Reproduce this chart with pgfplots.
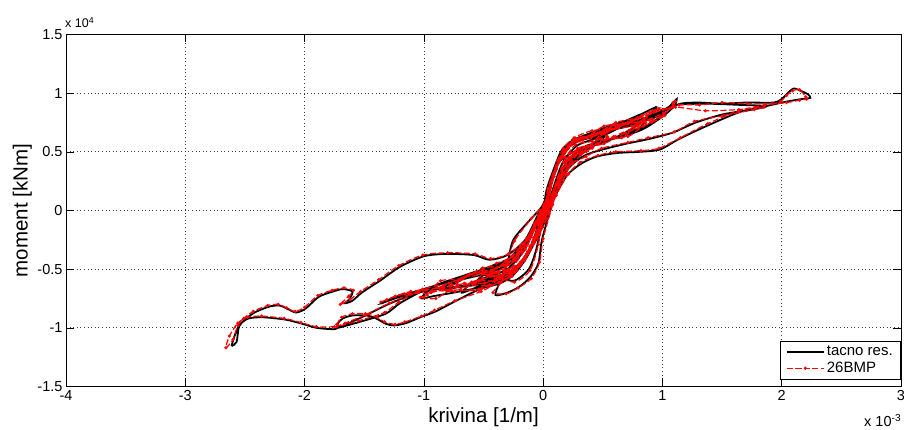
\documentclass[border=0pt]{standalone}
\usepackage{fontspec}
\setmainfont{Liberation Sans}
\usepackage{pgfplots}
\pgfplotsset{compat=1.18}
\usepackage{pgfplotstable}

% x in 1e-3 [1/m], y in 1e4 [kNm]; x,y = tacno res., xr,yr = 26BMP
\pgfplotstableread{
x y xr yr
0 0 0.01 0.01
0.04 0.15 0.05 0.16
0.09 0.32 0.10 0.33
0.14 0.44 0.15 0.45
0.2 0.52 0.21 0.53
0.16 0.47 0.17 0.46
0.1 0.36 0.11 0.37
0.04 0.16 0.05 0.17
-0.02 -0.06 -0.01 -0.05
-0.07 -0.22 -0.08 -0.23
-0.13 -0.36 -0.14 -0.37
-0.2 -0.46 -0.21 -0.47
-0.16 -0.42 -0.15 -0.41
-0.09 -0.28 -0.08 -0.27
-0.03 -0.08 -0.02 -0.07
0.03 0.08 0.04 0.09
0.08 0.28 0.09 0.29
0.14 0.45 0.15 0.46
0.22 0.55 0.23 0.56
0.32 0.6 0.33 0.62
0.45 0.63 0.46 0.66
0.52 0.64 0.54 0.63
0.46 0.58 0.45 0.6
0.34 0.52 0.33 0.5
0.22 0.44 0.21 0.45
0.12 0.28 0.13 0.29
0.04 0.06 0.05 0.07
-0.04 -0.14 -0.03 -0.13
-0.1 -0.3 -0.11 -0.31
-0.18 -0.43 -0.19 -0.44
-0.28 -0.52 -0.29 -0.5
-0.42 -0.57 -0.43 -0.55
-0.55 -0.6 -0.57 -0.62
-0.5 -0.55 -0.49 -0.53
-0.38 -0.5 -0.37 -0.52
-0.25 -0.44 -0.24 -0.43
-0.14 -0.3 -0.13 -0.29
-0.05 -0.1 -0.04 -0.09
0.02 0.05 0.03 0.06
0.08 0.3 0.09 0.31
0.16 0.48 0.17 0.49
0.25 0.58 0.26 0.6
0.38 0.64 0.4 0.62
0.55 0.68 0.56 0.7
0.72 0.72 0.7 0.74
0.85 0.76 0.86 0.75
0.8 0.7 0.79 0.72
0.65 0.64 0.66 0.62
0.5 0.58 0.49 0.6
0.35 0.52 0.36 0.5
0.22 0.42 0.21 0.43
0.12 0.25 0.13 0.26
0.03 0.0 0.04 0.01
-0.06 -0.22 -0.05 -0.21
-0.14 -0.38 -0.15 -0.39
-0.25 -0.5 -0.26 -0.52
-0.4 -0.58 -0.41 -0.56
-0.58 -0.63 -0.6 -0.61
-0.75 -0.66 -0.74 -0.69
-0.85 -0.68 -0.87 -0.66
-0.78 -0.62 -0.77 -0.64
-0.62 -0.56 -0.63 -0.55
-0.45 -0.5 -0.44 -0.52
-0.3 -0.44 -0.31 -0.43
-0.17 -0.32 -0.16 -0.31
-0.06 -0.1 -0.05 -0.09
0.02 0.04 0.03 0.05
0.09 0.32 0.1 0.33
0.17 0.5 0.18 0.51
0.26 0.6 0.27 0.61
0.4 0.66 0.41 0.64
0.6 0.71 0.6 0.73
0.8 0.77 0.82 0.76
0.95 0.83 0.94 0.85
1.05 0.88 1.06 0.87
1.1 0.93 1.09 0.92
1.12 0.95 1.11 0.93
1.1 0.89 1.09 0.9
1.0 0.8 1.01 0.82
0.85 0.7 0.84 0.72
0.7 0.64 0.71 0.63
0.55 0.6 0.54 0.62
0.4 0.54 0.41 0.53
0.28 0.46 0.27 0.47
0.16 0.3 0.17 0.31
0.06 0.05 0.07 0.06
-0.04 -0.18 -0.03 -0.17
-0.12 -0.36 -0.13 -0.37
-0.22 -0.5 -0.23 -0.51
-0.35 -0.6 -0.36 -0.58
-0.55 -0.66 -0.54 -0.68
-0.75 -0.7 -0.77 -0.68
-0.92 -0.73 -0.9 -0.75
-1.02 -0.75 -1.03 -0.74
-0.98 -0.7 -0.97 -0.72
-0.85 -0.62 -0.86 -0.6
-0.68 -0.56 -0.67 -0.58
-0.5 -0.5 -0.51 -0.49
-0.34 -0.46 -0.33 -0.47
-0.2 -0.36 -0.19 -0.35
-0.08 -0.12 -0.07 -0.11
0.01 0.03 0.02 0.04
0.08 0.3 0.09 0.31
0.17 0.49 0.18 0.5
0.25 0.58 0.26 0.59
0.39 0.64 0.4 0.63
0.6 0.69 0.61 0.7
0.8 0.76 0.79 0.78
1.0 0.85 1.01 0.86
1.15 0.91 1.14 0.9
1.3 0.92 1.31 0.9
1.51 0.91 1.5 0.92
1.7 0.92 1.71 0.91
1.93 0.92 1.92 0.91
2.0 0.95 1.99 0.93
2.05 1.0 2.04 0.98
2.1 1.04 2.09 1.02
2.16 1.02 2.15 1.03
2.22 0.99 2.2 0.97
2.24 0.96 2.21 0.95
2.17 0.95 2.15 0.94
2.05 0.93 2.04 0.92
1.87 0.89 1.86 0.9
1.65 0.84 1.64 0.85
1.37 0.72 1.38 0.74
1.14 0.61 1.15 0.62
0.98 0.52 0.97 0.53
0.81 0.5 0.82 0.51
0.62 0.49 0.61 0.5
0.45 0.46 0.46 0.47
0.32 0.4 0.31 0.41
0.2 0.3 0.21 0.31
0.1 0.12 0.11 0.13
0.02 -0.08 0.03 -0.07
-0.06 -0.25 -0.05 -0.24
-0.15 -0.42 -0.16 -0.43
-0.25 -0.55 -0.26 -0.56
-0.36 -0.62 -0.37 -0.61
-0.53 -0.67 -0.52 -0.69
-0.75 -0.78 -0.74 -0.77
-0.9 -0.86 -0.91 -0.85
-1.03 -0.91 -1.02 -0.9
-1.15 -0.96 -1.16 -0.95
-1.25 -0.98 -1.24 -0.97
-1.32 -0.965 -1.33 -0.95
-1.4 -0.92 -1.39 -0.91
-1.48 -0.895 -1.49 -0.88
-1.6 -0.895 -1.6 -0.88
-1.68 -0.92 -1.69 -0.91
-1.72 -0.96 -1.73 -0.97
-1.74 -1.01 -1.75 -0.99
-1.9 -1.0 -1.9 -0.99
-2.02 -0.965 -2.03 -0.955
-2.16 -0.93 -2.17 -0.92
-2.35 -0.91 -2.36 -0.9
-2.47 -0.92 -2.48 -0.91
-2.54 -0.97 -2.56 -0.96
-2.58 -1.05 -2.63 -1.07
-2.61 -1.15 -2.66 -1.17
-2.57 -1.12 -2.6 -1.1
-2.55 -0.99 -2.56 -0.98
-2.5 -0.93 -2.51 -0.92
-2.42 -0.87 -2.43 -0.86
-2.3 -0.82 -2.31 -0.81
-2.21 -0.81 -2.22 -0.8
-2.14 -0.84 -2.15 -0.83
-2.07 -0.87 -2.08 -0.86
-1.99 -0.835 -2.0 -0.825
-1.88 -0.735 -1.89 -0.725
-1.76 -0.69 -1.77 -0.68
-1.68 -0.67 -1.67 -0.66
-1.6 -0.69 -1.59 -0.68
-1.62 -0.75 -1.63 -0.73
-1.66 -0.79 -1.7 -0.8
-1.6 -0.77 -1.62 -0.76
-1.52 -0.7 -1.53 -0.69
-1.37 -0.6 -1.38 -0.59
-1.2 -0.48 -1.21 -0.47
-1.0 -0.39 -1.01 -0.38
-0.81 -0.37 -0.8 -0.36
-0.58 -0.38 -0.57 -0.37
-0.45 -0.42 -0.44 -0.41
-0.3 -0.38 -0.29 -0.37
-0.15 -0.25 -0.14 -0.24
-0.05 -0.05 -0.04 -0.04
0.03 0.1 0.04 0.11
0.1 0.35 0.11 0.36
0.2 0.52 0.21 0.53
0.3 0.6 0.31 0.61
0.5 0.66 0.51 0.68
0.75 0.74 0.74 0.72
1.0 0.84 1.01 0.83
1.12 0.9 1.11 0.88
1.37 0.91 1.36 0.85
1.65 0.9 1.64 0.86
1.87 0.89 1.85 0.88
1.78 0.865 1.77 0.86
1.51 0.82 1.52 0.81
1.28 0.75 1.27 0.76
1.09 0.665 1.1 0.67
0.89 0.61 0.88 0.62
0.7 0.57 0.71 0.58
0.5 0.52 0.49 0.53
0.35 0.47 0.36 0.46
0.22 0.37 0.21 0.38
0.12 0.2 0.13 0.21
0.03 -0.02 0.04 -0.01
-0.06 -0.22 -0.05 -0.21
-0.15 -0.4 -0.16 -0.41
-0.25 -0.52 -0.26 -0.53
-0.4 -0.58 -0.41 -0.6
-0.55 -0.62 -0.54 -0.6
-0.8 -0.66 -0.81 -0.68
-1.05 -0.7 -1.04 -0.69
-1.3 -0.8 -1.29 -0.79
-1.5 -0.9 -1.49 -0.89
-1.65 -0.97 -1.66 -0.96
-1.72 -1.0 -1.73 -0.99
-1.54 -0.95 -1.55 -0.94
-1.32 -0.88 -1.33 -0.87
-1.2 -0.79 -1.21 -0.78
-1.0 -0.68 -1.01 -0.67
-0.8 -0.6 -0.79 -0.62
-0.6 -0.55 -0.61 -0.54
-0.4 -0.48 -0.39 -0.49
-0.22 -0.38 -0.21 -0.37
-0.08 -0.12 -0.07 -0.11
0.02 0.06 0.03 0.07
0.1 0.34 0.11 0.35
0.18 0.5 0.19 0.51
0.3 0.6 0.31 0.62
0.5 0.67 0.49 0.65
0.7 0.72 0.71 0.74
0.9 0.78 0.89 0.77
1.0 0.82 1.02 0.81
0.9 0.74 0.91 0.75
0.7 0.65 0.69 0.66
0.5 0.58 0.51 0.57
0.3 0.5 0.29 0.51
0.15 0.32 0.16 0.33
0.05 0.06 0.06 0.07
-0.05 -0.2 -0.04 -0.19
-0.14 -0.4 -0.15 -0.41
-0.26 -0.54 -0.27 -0.55
-0.45 -0.62 -0.44 -0.64
-0.7 -0.65 -0.72 -0.63
-0.95 -0.68 -0.94 -0.7
-1.15 -0.72 -1.16 -0.71
-1.3 -0.77 -1.31 -0.76
-1.35 -0.79 -1.36 -0.78
-1.25 -0.74 -1.24 -0.73
-1.1 -0.7 -1.11 -0.69
-0.9 -0.64 -0.89 -0.66
-0.65 -0.58 -0.66 -0.57
-0.42 -0.52 -0.41 -0.53
-0.24 -0.42 -0.23 -0.41
-0.1 -0.18 -0.09 -0.17
0 0 0.01 0.01
0.08 0.28 0.09 0.29
0.16 0.47 0.17 0.48
0.28 0.6 0.29 0.61
0.45 0.68 0.46 0.66
0.62 0.73 0.61 0.75
0.78 0.8 0.79 0.79
0.9 0.86 0.89 0.84
0.95 0.88 0.97 0.87
0.88 0.8 0.87 0.81
0.75 0.7 0.76 0.71
0.6 0.62 0.59 0.63
0.45 0.58 0.46 0.57
0.3 0.52 0.29 0.53
0.18 0.38 0.19 0.39
0.08 0.15 0.09 0.16
-0.02 -0.08 -0.01 -0.07
-0.1 -0.3 -0.11 -0.31
-0.2 -0.46 -0.21 -0.47
-0.32 -0.55 -0.33 -0.54
-0.5 -0.6 -0.49 -0.62
-0.65 -0.64 -0.66 -0.62
-0.8 -0.66 -0.81 -0.68
-0.7 -0.6 -0.69 -0.59
-0.55 -0.52 -0.56 -0.53
-0.4 -0.46 -0.39 -0.45
-0.25 -0.4 -0.26 -0.39
-0.12 -0.22 -0.11 -0.21
-0.03 -0.02 -0.02 -0.01
0.05 0.18 0.06 0.19
0.12 0.4 0.13 0.41
0.2 0.54 0.21 0.55
0.32 0.62 0.33 0.6
0.5 0.7 0.51 0.72
0.68 0.76 0.67 0.74
0.82 0.82 0.83 0.81
0.7 0.74 0.71 0.75
0.55 0.66 0.54 0.67
0.4 0.6 0.41 0.59
0.28 0.55 0.27 0.56
0.16 0.4 0.17 0.41
0.06 0.12 0.07 0.13
-0.04 -0.14 -0.03 -0.13
-0.12 -0.34 -0.13 -0.35
-0.22 -0.48 -0.23 -0.49
-0.36 -0.58 -0.37 -0.57
-0.52 -0.64 -0.51 -0.66
-0.68 -0.7 -0.69 -0.68
-0.6 -0.62 -0.59 -0.63
-0.45 -0.56 -0.46 -0.55
-0.3 -0.5 -0.29 -0.51
-0.16 -0.34 -0.15 -0.33
-0.05 -0.1 -0.04 -0.09
0 0 0.01 0.01
0.03 0.18 0.04 0.19
0.11 0.41 0.12 0.42
0.16 0.52 0.17 0.53
0.25 0.6 0.26 0.62
0.4 0.66 0.41 0.68
0.6 0.72 0.62 0.7
0.5 0.64 0.49 0.65
0.31 0.47 0.32 0.48
0.24 0.41 0.25 0.4
0.14 0.27 0.15 0.28
0.07 0.04 0.08 0.05
-0.01 -0.25 0.0 -0.24
-0.04 -0.45 -0.03 -0.44
-0.11 -0.57 -0.1 -0.58
-0.2 -0.65 -0.21 -0.66
-0.3 -0.7 -0.31 -0.71
-0.4 -0.72 -0.42 -0.7
-0.36 -0.6 -0.35 -0.61
-0.3 -0.45 -0.31 -0.46
-0.25 -0.25 -0.24 -0.26
-0.11 -0.08 -0.1 -0.07
0 0.05 0.01 0.06
0.06 0.25 0.07 0.26
0.12 0.4 0.13 0.41
0.22 0.48 0.23 0.49
0.36 0.54 0.37 0.55
0.3 0.48 0.29 0.49
0.18 0.32 0.19 0.31
0.08 0.1 0.09 0.11
-0.05 -0.12 -0.04 -0.11
-0.18 -0.3 -0.19 -0.31
-0.3 -0.42 -0.31 -0.43
-0.42 -0.5 -0.43 -0.52
-0.5 -0.55 -0.51 -0.53
-0.4 -0.55 -0.39 -0.56
-0.25 -0.6 -0.24 -0.61
-0.12 -0.5 -0.11 -0.51
-0.05 -0.3 -0.04 -0.29
0 0 0.01 0.01
}\loops

\begin{document}
\begin{tikzpicture}[x=1pt,y=1pt]
\begin{axis}[
  at={(66pt,43.5pt)}, anchor=south west,
  scale only axis, width=835pt, height=352pt,
  xmin=-4, xmax=3, ymin=-1.5, ymax=1.5,
  xtick={-4,-3,-2,-1,0,1,2,3},
  xticklabels={-4,-3,-2,-1,0,1,2,3},
  ytick={-1.5,-1,-0.5,0,0.5,1,1.5},
  yticklabels={-1.5,-1,-0.5,0,0.5,1,1.5},
  tick align=inside, major tick length=8pt,
  tick style={black, line width=0.6pt},
  axis line style={black, line width=0.8pt},
  grid=major,
  major grid style={black!75, dash pattern=on 1pt off 2.6pt, line width=0.7pt},
  ticklabel style={font=\fontsize{14.5}{16}\selectfont},
  xlabel={krivina [1/m]}, ylabel={moment [kNm]},
  label style={font=\fontsize{20.5}{23}\selectfont},
  xlabel style={at={(axis description cs:0.5,-0.103)}, anchor=base},
  ylabel style={at={(axis description cs:-0.046,0.5)}, anchor=base},
  legend style={at={(1,0)}, anchor=south east, yshift=7pt,
    draw=black, line width=0.6pt, fill=white,
    font=\fontsize{15}{17}\selectfont, inner xsep=6pt, inner ysep=3pt, row sep=1pt,
    cells={anchor=west}},
  legend image code/.code={\draw[#1, mark repeat=2, mark phase=2] plot coordinates {(0pt,0pt) (18.5pt,0pt) (37pt,0pt)};},
]
\addplot[black, line width=1.8pt, smooth, tension=0.45] table[x=x, y=y] {\loops};
\addplot[red, line width=1.2pt, dash pattern=on 6pt off 2.5pt, smooth, tension=0.45,
  mark=*, mark size=0.9pt, mark options={solid}] table[x=xr, y=yr] {\loops};
\legend{tacno res., 26BMP}
\end{axis}
\node[anchor=base west, font=\fontsize{12.5}{14}\selectfont, inner sep=0pt] at (65pt,402pt) {x 10\textsuperscript{4}};
\node[anchor=base west, font=\fontsize{14.5}{16}\selectfont, inner sep=0pt] at (864pt,3pt) {x 10\textsuperscript{-3}};
\pgfresetboundingbox
\path[use as bounding box] (0,0) rectangle (904pt,430pt);
\end{tikzpicture}
\end{document}
